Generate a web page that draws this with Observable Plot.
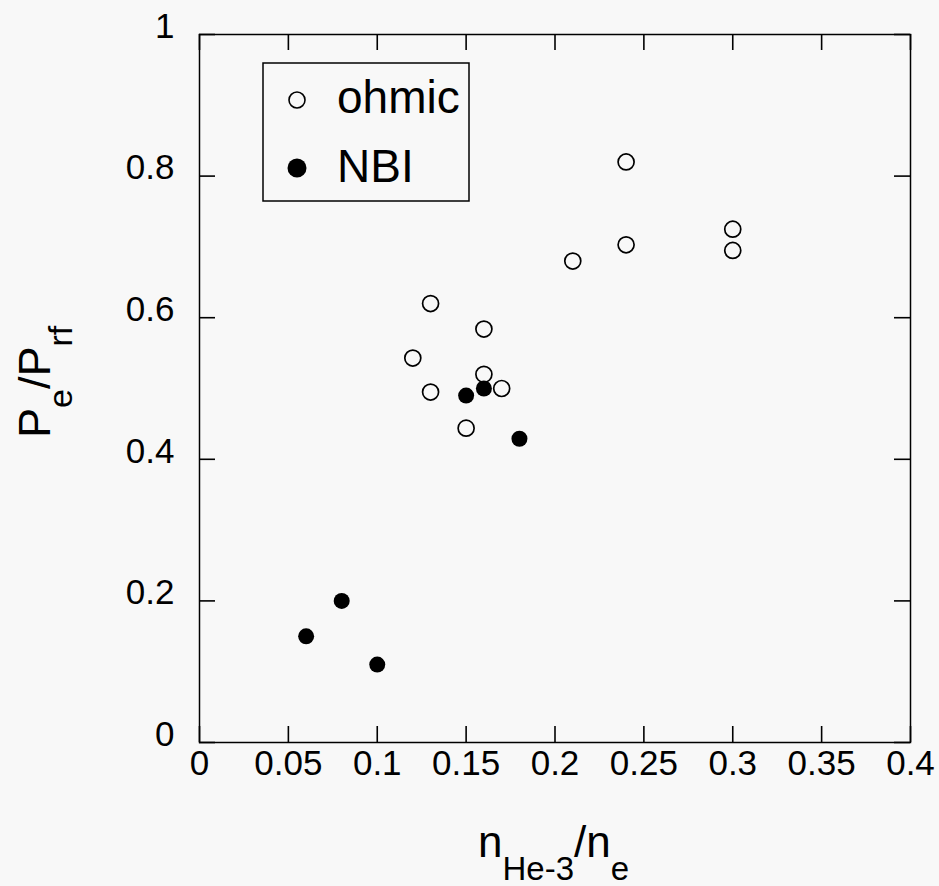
<!DOCTYPE html>
<html><head><meta charset="utf-8">
<script src="https://cdn.jsdelivr.net/npm/d3@7"></script>
<script src="https://cdn.jsdelivr.net/npm/@observablehq/plot@0.6"></script>
<style>
html,body{margin:0;padding:0;background:#f8f8f8;}
</style></head><body><div id="wrap"></div>
<script>
// Data
const ohmicX = [0.12, 0.13, 0.13, 0.15, 0.16, 0.16, 0.17, 0.21, 0.24, 0.24, 0.30, 0.30];
const ohmicY = [0.543, 0.62, 0.495, 0.444, 0.584, 0.52, 0.50, 0.68, 0.82, 0.703, 0.725, 0.695];
const nbiX = [0.06, 0.08, 0.10, 0.15, 0.16, 0.18];
const nbiY = [0.15, 0.20, 0.11, 0.49, 0.50, 0.429];
const xTicks = [0, 0.05, 0.1, 0.15, 0.2, 0.25, 0.3, 0.35, 0.4];
const yTicks = [0, 0.2, 0.4, 0.6, 0.8, 1];
const seriesNames = ["ohmic", "NBI"];

const FONT = "'Liberation Sans', Arial, Helvetica, sans-serif";
const fmt = d => String(d);

const W = 939, H = 886, ML = 199, MR = 29, MT = 34, MB = 144;
const FW = W - ML - MR, FH = H - MT - MB, TL = 16;
const tickStyle = {stroke: "black", strokeWidth: 1.6};

const chart = Plot.plot({
  width: W, height: H,
  marginLeft: ML, marginRight: MR, marginTop: MT, marginBottom: MB,
  x: {domain: [0, 0.4]},
  y: {domain: [0, 1]},
  style: {fontFamily: FONT, fontSize: "35px", background: "#f8f8f8", color: "black"},
  marks: [
    Plot.frame({stroke: "black", strokeWidth: 1.5}),
    // inward ticks on all four sides
    Plot.ruleX(xTicks, {x: d => d, insetTop: FH - TL, ...tickStyle}),
    Plot.ruleX(xTicks, {x: d => d, insetBottom: FH - TL, ...tickStyle}),
    Plot.ruleY(yTicks, {y: d => d, insetRight: FW - TL, ...tickStyle}),
    Plot.ruleY(yTicks, {y: d => d, insetLeft: FW - TL, ...tickStyle}),
    Plot.axisX({anchor: "bottom", ticks: xTicks, tickSize: 0, tickPadding: 8, tickFormat: fmt, label: null, fontSize: 35}),
    Plot.axisY({anchor: "left", ticks: yTicks, tickSize: 0, tickPadding: 25, dy: -8, tickFormat: fmt, label: null, fontSize: 35}),
    Plot.dot(ohmicX, {x: ohmicX, y: ohmicY, r: 8, stroke: "black", strokeWidth: 1.7, fill: "none"}),
    Plot.dot(nbiX, {x: nbiX, y: nbiY, r: 8, fill: "black", stroke: "none"})
  ]
});
document.getElementById("wrap").appendChild(chart);

const svg = d3.select(chart);
// Legend
const lg = svg.append("g").attr("font-family", FONT).attr("fill", "black").attr("text-anchor", "start");
lg.append("rect").attr("x", 263).attr("y", 63).attr("width", 206).attr("height", 138)
  .attr("fill", "none").attr("stroke", "black").attr("stroke-width", 1.5);
lg.append("circle").attr("cx", 297).attr("cy", 100).attr("r", 8)
  .attr("fill", "none").attr("stroke", "black").attr("stroke-width", 1.6);
lg.append("circle").attr("cx", 297).attr("cy", 168).attr("r", 9.5).attr("fill", "black");
lg.append("text").attr("x", 337).attr("y", 113).attr("font-size", 46).text(seriesNames[0]);
lg.append("text").attr("x", 337).attr("y", 182).attr("font-size", 46).text(seriesNames[1]);

// X title: n_He-3 / n_e
const xt = svg.append("text").attr("x", 478).attr("y", 857).attr("text-anchor", "start")
  .attr("font-family", FONT).attr("fill", "black").attr("font-size", 44);
xt.append("tspan").text("n");
xt.append("tspan").attr("font-size", 33).attr("dy", 23).text("He-3");
xt.append("tspan").attr("dy", -23).text("/n");
xt.append("tspan").attr("font-size", 33).attr("dy", 23).text("e");

// Y title: P_e / P_rf
const yt = svg.append("text").attr("transform", "translate(50,438) rotate(-90)").attr("text-anchor", "start")
  .attr("font-family", FONT).attr("fill", "black").attr("font-size", 45);
yt.append("tspan").text("P");
yt.append("tspan").attr("font-size", 34).attr("dy", 22).text("e");
yt.append("tspan").attr("dy", -22).text("/P");
yt.append("tspan").attr("font-size", 34).attr("dy", 22).text("rf");
</script>
</body></html>
